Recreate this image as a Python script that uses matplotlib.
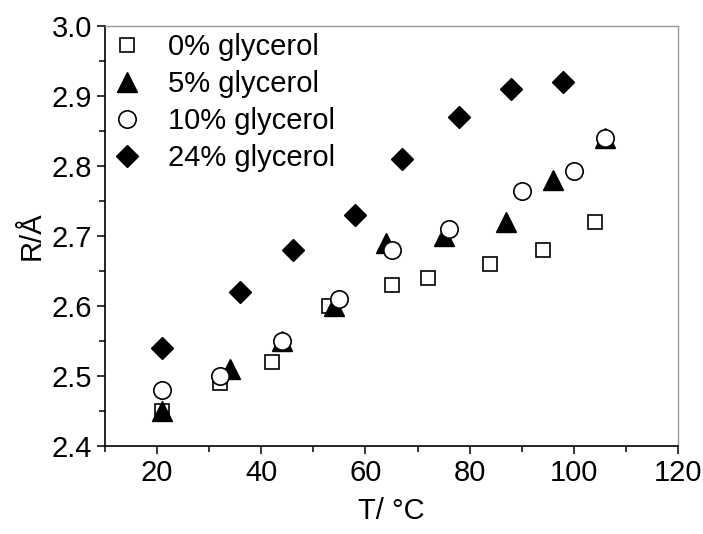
import matplotlib
matplotlib.use("Agg")
import matplotlib.pyplot as plt
from matplotlib.ticker import MultipleLocator

plt.rcParams['font.family'] = ['Liberation Sans', 'DejaVu Sans']

# temperature (deg C) and radius (angstrom) for each glycerol fraction
t_0 = [21, 32, 42, 53, 65, 72, 84, 94, 104]
r_0 = [2.45, 2.49, 2.52, 2.60, 2.63, 2.64, 2.66, 2.68, 2.72]

t_5 = [21, 34, 44, 54, 64, 75, 87, 96, 106]
r_5 = [2.45, 2.51, 2.55, 2.60, 2.69, 2.70, 2.72, 2.78, 2.84]

t_10 = [21, 32, 44, 55, 65, 76, 90, 100, 106]
r_10 = [2.48, 2.50, 2.55, 2.61, 2.68, 2.71, 2.765, 2.793, 2.84]

t_24 = [21, 36, 46, 58, 67, 78, 88, 98]
r_24 = [2.54, 2.62, 2.68, 2.73, 2.81, 2.87, 2.91, 2.92]

labels = ['0% glycerol', '5% glycerol', '10% glycerol', '24% glycerol']

fig = plt.figure(figsize=(7.03, 5.34), dpi=100)
ax = fig.add_axes([0.1494, 0.1648, 0.815, 0.7865])

ax.plot(t_0, r_0, 's', ms=10.5, mfc='white', mec='black', mew=1.2, ls='none', label=labels[0])
ax.plot(t_5, r_5, '^', ms=14, color='black', ls='none', label=labels[1])
ax.plot(t_10, r_10, 'o', ms=12.5, mfc='white', mec='black', mew=1.2, ls='none', label=labels[2])
ax.plot(t_24, r_24, 'D', ms=11, color='black', ls='none', label=labels[3])

ax.set_xlim(10, 120)
ax.set_ylim(2.4, 3.0)
ax.xaxis.set_major_locator(MultipleLocator(20))
ax.xaxis.set_minor_locator(MultipleLocator(10))
ax.yaxis.set_major_locator(MultipleLocator(0.1))
ax.yaxis.set_minor_locator(MultipleLocator(0.05))
ax.yaxis.set_major_formatter(plt.FormatStrFormatter('%.1f'))

ax.tick_params(which='both', direction='out', top=False, right=False, labelsize=21, width=1.1)
ax.tick_params(which='major', length=6)
ax.tick_params(which='minor', length=4)

for s in ['top', 'right']:
    ax.spines[s].set_color('#999999')
    ax.spines[s].set_linewidth(1.0)
for s in ['left', 'bottom']:
    ax.spines[s].set_linewidth(1.2)

ax.set_xlabel('T/ °C', fontsize=21, labelpad=7)
ax.set_ylabel('R/Å', fontsize=21, labelpad=4)

ax.legend(loc='upper left', frameon=False, fontsize=21, handlelength=1.0,
          handletextpad=0.9, labelspacing=0.31, borderaxespad=0.1, borderpad=0.15)

fig.savefig('out.png', dpi=100)
